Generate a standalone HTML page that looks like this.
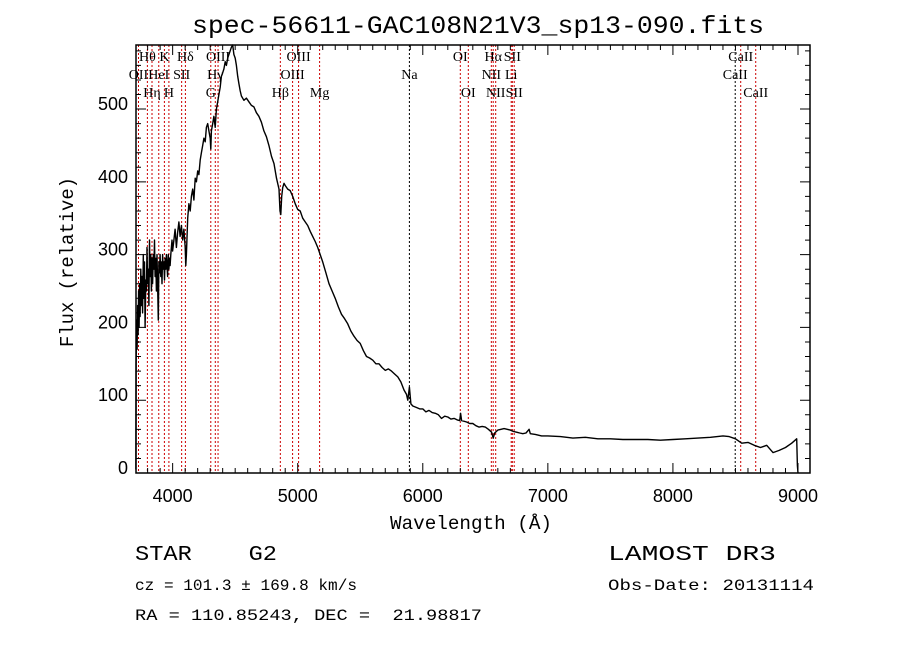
<!DOCTYPE html>
<html><head><meta charset="utf-8"><style>
body{margin:0;background:#fff}
svg{display:block}
text{white-space:pre}
</style></head><body>
<svg id="chart" width="900" height="649" viewBox="0 0 900 649" xmlns="http://www.w3.org/2000/svg" font-family="Liberation Mono, monospace" xml:space="preserve">
<rect width="900" height="649" fill="#fff"/>
<text x="478" y="33" font-size="25" text-anchor="middle" textLength="572" lengthAdjust="spacingAndGlyphs">spec-56611-GAC108N21V3_sp13-090.fits</text>
<g id="lines"></g>
<g id="linelabels" font-family="Liberation Serif, serif" font-size="14"></g>
<path id="spec" fill="none" stroke="#000" stroke-width="1.4" stroke-linejoin="round"/>
<g id="axes"></g>
<text transform="translate(73,262) rotate(-90)" font-size="19" text-anchor="middle" textLength="170" lengthAdjust="spacingAndGlyphs">Flux (relative)</text>
<text x="471" y="529" font-size="19" text-anchor="middle" textLength="162" lengthAdjust="spacingAndGlyphs">Wavelength (Å)</text>
<text x="135" y="560" font-size="21" textLength="142" lengthAdjust="spacingAndGlyphs">STAR    G2</text>
<text x="135" y="590" font-size="16" textLength="222" lengthAdjust="spacingAndGlyphs">cz = 101.3 ± 169.8 km/s</text>
<text x="135" y="620" font-size="16" textLength="347" lengthAdjust="spacingAndGlyphs">RA = 110.85243, DEC =  21.98817</text>
<text x="608" y="560" font-size="21" textLength="168" lengthAdjust="spacingAndGlyphs">LAMOST DR3</text>
<text x="608" y="590" font-size="16" textLength="206" lengthAdjust="spacingAndGlyphs">Obs-Date: 20131114</text>
</svg>
<script>
const wavelengths=[3706,3708,3712,3716,3720,3724,3728,3732,3736,3740,3745,3750,3755,3760,3765,3770,3775,3780,3785,3790,3795,3800,3805,3810,3815,3820,3825,3830,3835,3840,3845,3850,3855,3860,3865,3870,3875,3880,3885,3890,3895,3900,3905,3910,3915,3920,3925,3930,3935,3940,3945,3950,3955,3960,3965,3970,3975,3980,3985,3990,3995,4000,4010,4020,4030,4040,4050,4060,4070,4080,4090,4100,4105,4110,4120,4130,4140,4150,4160,4170,4180,4190,4200,4210,4220,4230,4240,4250,4260,4270,4280,4290,4300,4305,4310,4320,4330,4340,4350,4360,4370,4380,4390,4400,4410,4420,4430,4440,4450,4460,4470,4480,4490,4500,4510,4520,4530,4540,4550,4570,4590,4610,4630,4650,4670,4690,4710,4730,4750,4770,4790,4810,4830,4850,4858,4865,4872,4880,4890,4900,4920,4940,4960,4980,5000,5020,5040,5060,5080,5100,5120,5140,5160,5180,5200,5225,5250,5275,5300,5325,5350,5375,5400,5425,5450,5475,5500,5525,5550,5575,5600,5625,5650,5675,5700,5725,5750,5775,5800,5825,5850,5870,5880,5893,5905,5920,5950,5975,6000,6025,6050,6075,6100,6125,6150,6175,6200,6225,6250,6275,6295,6302,6310,6350,6375,6400,6425,6450,6475,6500,6525,6550,6563,6575,6600,6625,6650,6675,6700,6725,6750,6775,6800,6825,6850,6860,6900,6950,7000,7100,7200,7300,7400,7500,7600,7700,7800,7900,8000,8100,8200,8300,8400,8450,8500,8550,8600,8650,8700,8750,8800,8850,8900,8950,8990,8995,9000];
const fluxes=[5,150,210,170,230,190,250,200,260,215,280,230,270,220,300,240,290,200,265,250,310,260,280,230,320,270,300,250,295,260,300,280,320,270,295,250,300,260,210,290,275,300,270,290,260,300,280,290,265,295,280,300,285,270,300,280,295,285,300,310,320,305,320,335,310,330,345,325,340,320,335,310,285,300,350,370,360,380,390,375,405,400,415,410,430,440,450,460,455,475,480,470,460,445,470,480,490,475,500,510,520,530,545,550,555,565,560,570,575,580,585,588,575,570,560,545,535,525,518,512,515,510,505,503,495,490,482,470,462,450,435,425,405,390,360,355,380,392,398,395,390,388,380,370,362,360,350,345,340,332,325,318,310,300,290,275,260,250,240,228,218,212,205,195,188,182,178,168,160,158,155,150,150,145,141,143,140,136,132,125,114,108,100,118,95,92,90,88,88,84,86,83,82,80,75,78,77,74,75,73,72,82,72,70,68,68,65,63,64,63,60,56,48,55,59,60,61,60,59,57,56,55,54,55,60,54,53,51,51,50,48,49,47,47,46,46,46,45,46,47,48,49,51,50,47,41,42,38,35,38,28,31,35,41,47,10,0];
const lineWaves=[3727,3798,3835,3889,3934,3970,4072,4102,4305,4341,4363,4861,4959,5007,5175,5893,6300,6364,6548,6563,6583,6707,6716,6731,8498,8542,8662];
const lineNames=["OII","Hθ","Hη","HeI","K","H","SII","Hδ","G","Hγ","OIII","Hβ","OIII","OIII","Mg","Na","OI","OI","NII","Hα","NII","Li","SII","SII","CaII","CaII","CaII"];
const lineRows=[2,1,3,2,1,3,2,1,3,2,1,3,2,1,3,2,1,3,2,1,3,2,1,3,2,1,3];
const lineColors=["#c00","#c00","#c00","#c00","#c00","#c00","#c00","#c00","#c00","#c00","#c00","#c00","#c00","#c00","#c00","#000","#c00","#c00","#c00","#c00","#c00","#c00","#c00","#c00","#000","#c00","#c00"];
const xTicks=[4000,5000,6000,7000,8000,9000];
const yTicks=[0,100,200,300,400,500];

const L=136,R=810,T=45,B=473;
const xMin=3707,xMax=9096,yMin=0,yMax=588;
const X=v=>L+(v-xMin)/(xMax-xMin)*(R-L);
const Y=v=>B-(v-yMin)/(yMax-yMin)*(B-T);
const NS="http://www.w3.org/2000/svg";
function mk(tag,attrs,parent){const e=document.createElementNS(NS,tag);for(const k in attrs)e.setAttribute(k,attrs[k]);parent.appendChild(e);return e;}

const lg=document.getElementById('lines'),lbl=document.getElementById('linelabels');
lineWaves.forEach((w,i)=>{
  const x=X(w);
  const ln=mk('line',{x1:x,x2:x,y1:T,y2:B,stroke:lineColors[i],'stroke-width':1,'stroke-dasharray':'2,2'},lg);
  
  
  const t=mk('text',{x:x,y:T+16+(lineRows[i]-1)*18,'text-anchor':'middle'},lbl);
  t.textContent=lineNames[i];
  
  
});

let d='';
wavelengths.forEach((w,i)=>{const y=Math.max(T,Math.min(B,Y(fluxes[i])));d+=(i?'L':'M')+X(w).toFixed(1)+','+y.toFixed(1);});
document.getElementById('spec').setAttribute('d',d);

const ax=document.getElementById('axes');
const frame=mk('rect',{x:L,y:T,width:R-L,height:B-T,fill:'none',stroke:'#000','stroke-width':1.5},ax);


let tp='';
for(let w=3800;w<=9000;w+=100){const x=X(w),len=(w%1000===0)?10:5;tp+=`M${x},${B}v${-len}M${x},${T}v${len}`;}
for(let v=20;v<=580;v+=20){const y=Y(v),len=(v%100===0)?10:5;tp+=`M${L},${y}h${len}M${R},${y}h${-len}`;}
const tk=mk('path',{d:tp,stroke:'#000','stroke-width':1,fill:'none'},ax);


xTicks.forEach(v=>{const t=mk('text',{x:X(v),y:B+29,'text-anchor':'middle','font-family':'Liberation Sans, sans-serif','font-size':18},ax);t.textContent=v;
  
  });
yTicks.forEach(v=>{const t=mk('text',{x:L-8,y:Y(v)+1,'text-anchor':'end','font-family':'Liberation Sans, sans-serif','font-size':18},ax);t.textContent=v;
  
  });
</script>
</body></html>
